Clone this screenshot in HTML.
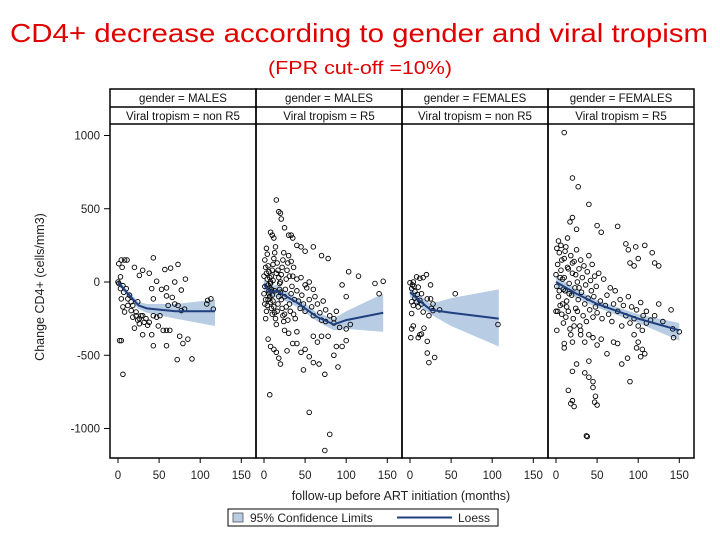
<!DOCTYPE html>
<html><head><meta charset="utf-8"><style>
body{margin:0;background:#fff;width:720px;height:540px;overflow:hidden}
svg{display:block;font-family:"Liberation Sans",sans-serif}
</style></head><body>
<svg id="chart" width="720" height="540">
<text x="10" y="42" font-size="26" fill="#e00000" textLength="698" lengthAdjust="spacingAndGlyphs">CD4+ decrease according to gender and viral tropism</text>
<text x="268" y="74" font-size="18" fill="#e00000" textLength="184" lengthAdjust="spacingAndGlyphs">(FPR cut-off =10%)</text>
<text transform="translate(44,287) rotate(-90)" text-anchor="middle" font-size="12.5" fill="#222">Change CD4+ (cells/mm3)</text>
<text x="401" y="500" text-anchor="middle" font-size="12.5" fill="#222">follow-up before ART initiation (months)</text>
<g>
<rect x="228" y="509" width="270" height="17" fill="#fff" stroke="#000"/>
<rect x="233" y="513" width="10" height="9" fill="#b8cce4" stroke="#555" stroke-width="0.8"/>
<text x="250" y="522" font-size="12" fill="#222">95% Confidence Limits</text>
<line x1="397" y1="517.5" x2="452" y2="517.5" stroke="#1f3f7f" stroke-width="2"/>
<text x="458" y="522" font-size="12" fill="#222">Loess</text>
</g>
<g id="plots"></g>
</svg>
<script>
const yTicks=[1000,500,0,-500,-1000];
const xTicks=[0,50,100,150];
const genders=["MALES","MALES","FEMALES","FEMALES"];
const tropisms=["non R5","R5","non R5","R5"];
const p1=[[1,125],[4,150],[8,150],[11,150],[5,100],[43,165],[73,120],[64,95],[57,85],[20,100],[26,45],[30,80],[38,60],[47,5],[69,0],[82,20],[53,-50],[59,-40],[43,-115],[59,-95],[66,-105],[77,-55],[3,35],[6,-25],[10,-45],[14,-90],[18,-160],[22,-205],[26,-250],[30,-230],[34,-250],[38,-275],[43,-230],[47,-240],[51,-230],[55,-330],[59,-330],[63,-330],[73,-160],[77,-195],[81,-185],[109,-125],[113,-115],[116,-185],[108,-150],[4,-115],[6,-170],[8,-205],[12,-160],[16,-195],[20,-315],[30,-360],[41,-360],[43,-435],[59,-435],[75,-370],[85,-390],[79,-420],[72,-530],[90,-525],[4,-400],[6,-630],[3,-45],[7,-70],[12,-115],[16,-135],[24,-135],[28,-230],[36,-295],[49,-300],[22,-230],[18,-240],[24,-260],[32,-275],[26,-285],[61,-160],[69,-150],[41,-45],[2,-400],[0,0],[1,-10]];
const p2=[[15,560],[18,480],[20,470],[21,430],[25,370],[8,340],[10,320],[12,300],[30,320],[33,320],[35,300],[40,250],[45,240],[50,210],[60,240],[70,180],[78,160],[103,70],[115,40],[145,5],[135,-10],[140,-80],[95,-20],[100,-100],[7,-770],[55,-890],[80,-1040],[74,-1150],[5,-390],[8,-440],[12,-460],[15,-480],[18,-520],[20,-560],[28,-470],[35,-420],[40,-420],[45,-480],[50,-460],[65,-410],[55,-510],[60,-550],[48,-600],[74,-630],[67,-560],[90,-580],[85,-500],[88,-440],[95,-440],[100,-400],[78,-370],[60,-370],[70,-370],[100,-320],[105,-290],[85,-280],[92,-310],[75,-270],[30,-350],[25,-330],[40,-340],
[1,150],[2,100],[3,60],[4,20],[5,-20],[6,-60],[7,-100],[8,-140],[9,-180],[10,-220],[2,-250],[3,-200],[4,-160],[5,-120],[6,-80],[7,-40],[8,0],[9,40],[10,80],[11,120],[12,160],[13,200],[14,240],[3,230],[4,190],[5,110],[6,70],[7,30],[8,-10],[9,-50],[10,-90],[11,-130],[12,-170],[13,-210],[14,-250],[15,-290],[16,-200],[17,-150],[18,-100],[19,-50],[20,0],[21,50],[22,100],[23,150],[24,200],[16,130],[17,80],[18,30],[19,-10],[20,-70],[21,-120],[22,-180],[23,-230],[24,-270],[25,-100],[26,-50],[27,20],[28,80],[29,130],[30,180],[31,-150],[32,-200],[33,-80],[34,-30],[35,40],[36,100],[37,-120],[38,-250],[40,-60],[42,-130],[44,-180],[46,-90],[48,-150],[50,-200],[52,-40],[55,-120],[58,-170],[60,-230],[62,-100],[65,-150],[68,-210],[70,-260],[72,-130],[75,-190],[80,-230],[85,-250],[88,-200],[1,-30],[0,-80],[0,40],[1,-150],[2,-120],[11,10],[13,-60],[15,60],[25,-220],[27,-170],[29,-260],[31,40],[33,140],[36,-220],[40,20],[45,30],[50,-20],[55,0],[60,-50]];
const p3=[[0,-5],[4,0],[8,35],[12,25],[16,30],[20,50],[25,-20],[2,-45],[6,-65],[10,-35],[14,-80],[2,-135],[4,-160],[8,-135],[2,-215],[10,-170],[14,-150],[16,-205],[21,-115],[25,-115],[28,-150],[23,-230],[28,-195],[36,-190],[55,-80],[107,-290],[4,-300],[2,-320],[1,-380],[10,-380],[12,-360],[14,-355],[17,-315],[21,-405],[21,-485],[23,-550],[30,-515],[3,-20],[5,-30],[9,-85],[12,-125],[6,-110],[26,-180]];
const p4=[[10,1020],[20,710],[27,650],[40,530],[20,440],[17,410],[25,360],[55,340],[50,385],[75,380],[85,260],[88,220],[97,240],[108,250],[117,200],[100,160],[120,130],[125,110],[90,130],[95,110],[140,-190],[142,-320],[150,-340],[143,-380],[110,-280],[105,-330],[100,-410],[95,-360],[98,-450],[105,-460],[108,-490],[103,-510],[87,-520],[80,-560],[90,-680],[62,-490],[75,-420],[70,-410],[55,-390],[50,-430],[35,-410],[30,-330],[40,-360],[45,-380],[20,-410],[10,-420],[10,-450],[20,-610],[35,-620],[40,-650],[45,-680],[15,-740],[20,-810],[22,-850],[18,-830],[47,-820],[50,-840],[48,-780],[37,-1050],[38,-1055],[45,-720],[25,-560],[40,-540],
[0,50],[1,-30],[2,120],[3,-100],[4,200],[5,-160],[6,80],[7,-220],[8,20],[9,-280],[10,160],[11,-60],[12,240],[13,-130],[14,100],[15,-200],[16,-10],[17,-320],[18,180],[19,-90],[20,60],[21,-250],[22,140],[23,-40],[24,-180],[25,220],[26,0],[27,-120],[28,90],[29,-300],[30,150],[31,-70],[32,30],[33,-230],[34,110],[35,-150],[36,-20],[37,-270],[38,70],[39,-110],[40,180],[41,-190],[42,10],[43,-60],[44,120],[45,-240],[46,-100],[47,40],[48,-170],[49,-30],[50,-210],[52,60],[54,-130],[56,-250],[58,20],[60,-160],[62,-90],[64,-220],[66,-40],[68,-270],[70,-150],[72,-60],[75,-200],[78,-120],[80,-300],[82,-160],[85,-230],[88,-100],[90,-280],[92,-170],[95,-250],[98,-190],[100,-300],[103,-140],[106,-230],[110,-200],[115,-260],[120,-230],[125,-150],[130,-270],[2,-200],[4,-60],[6,250],[8,-150],[10,30],[12,-240],[14,300],[16,-80],[18,-360],[20,130],[22,-300],[24,50],[26,-200],[28,-40],[30,-360],[3,280],[5,30],[7,150],[9,-50],[11,210],[13,-170],[15,90],[1,230],[0,-200],[1,-330]];
const points=[p1,p2,p3,p4];
const loessX=[[0,12,25,35,70,118],[0,8,15,40,65,85,100,145],[0,10,25,50,108],[0,25,50,100,150]];
const loessY=[[0,-80,-160,-180,-200,-200],[-20,-70,-60,-140,-240,-290,-260,-210],[-70,-120,-190,-210,-250],[0,-80,-150,-250,-330]];
const ciLow=[[-20,-100,-185,-210,-250,-300],[-60,-110,-100,-170,-270,-330,-320,-340],[-100,-160,-220,-300,-440],[-40,-110,-175,-280,-400]];
const ciHigh=[[20,-60,-135,-150,-150,-120],[20,-30,-20,-110,-210,-250,-200,-80],[-40,-80,-150,-110,-50],[40,-50,-125,-220,-280]];

(function(){
const NS="http://www.w3.org/2000/svg";
const g=document.getElementById('plots');
const panelL=[110,256,402,548],panelW=146,plotTop=89,hdr1=107,hdr2=124,bot=458;
function yS(v){return 282-v*0.1465;}
function xS(i,m){return panelL[i]+8+m*0.822;}
function mk(tag,attrs,parent){const e=document.createElementNS(NS,tag);for(const k in attrs)e.setAttribute(k,attrs[k]);(parent||g).appendChild(e);return e;}
for(let i=0;i<4;i++){
  const pg=mk('g',{});
  
  
  let d='';
  loessX[i].forEach((m,k)=>{d+=(k?'L':'M')+xS(i,m)+' '+yS(ciHigh[i][k]);});
  for(let k=loessX[i].length-1;k>=0;k--)d+='L'+xS(i,loessX[i][k])+' '+yS(ciLow[i][k]);
  const band=mk('path',{d:d+'Z',fill:'#b8cce4',stroke:'none'},pg);
  
  
  points[i].forEach(p=>{
    const c=mk('circle',{cx:xS(i,p[0]),cy:yS(p[1]),r:2.3,fill:'none',stroke:'#000','stroke-width':0.9},pg);
    
    
  });
  const ln=mk('polyline',{points:loessX[i].map((m,k)=>xS(i,m)+','+yS(loessY[i][k])).join(' '),fill:'none',stroke:'#1f3f7f','stroke-width':2},pg);
  
  
  const L=panelL[i];
  const h1=mk('text',{x:L+panelW/2,y:102,'text-anchor':'middle','font-size':11.5,fill:'#111'},pg);
  h1.textContent='gender = '+genders[i];
  
  
  const h2=mk('text',{x:L+panelW/2,y:120,'text-anchor':'middle','font-size':11.5,fill:'#111'},pg);
  h2.textContent='Viral tropism = '+tropisms[i];
  
  
  mk('line',{x1:L,y1:hdr1,x2:L+panelW,y2:hdr1,stroke:'#000','stroke-width':1.5},pg);
  mk('line',{x1:L,y1:hdr2,x2:L+panelW,y2:hdr2,stroke:'#000','stroke-width':1.5},pg);
  mk('rect',{x:L,y:plotTop,width:panelW,height:bot-plotTop,fill:'none',stroke:'#000','stroke-width':1.5},pg);
  xTicks.forEach(t=>{
    const x=xS(i,t);
    mk('line',{x1:x,y1:bot,x2:x,y2:bot+5,stroke:'#000'},pg);
    const tx=mk('text',{x:x,y:bot+21,'text-anchor':'middle','font-size':11.5,fill:'#222'},pg);
    tx.textContent=t;
    
    
  });
}
yTicks.forEach(t=>{
  const y=yS(t);
  mk('line',{x1:104,y1:y,x2:110,y2:y,stroke:'#000'});
  const tx=mk('text',{x:100,y:y+4,'text-anchor':'end','font-size':11.5,fill:'#222'});
  tx.textContent=t;
  
  
});
})();
</script>
</body></html>
